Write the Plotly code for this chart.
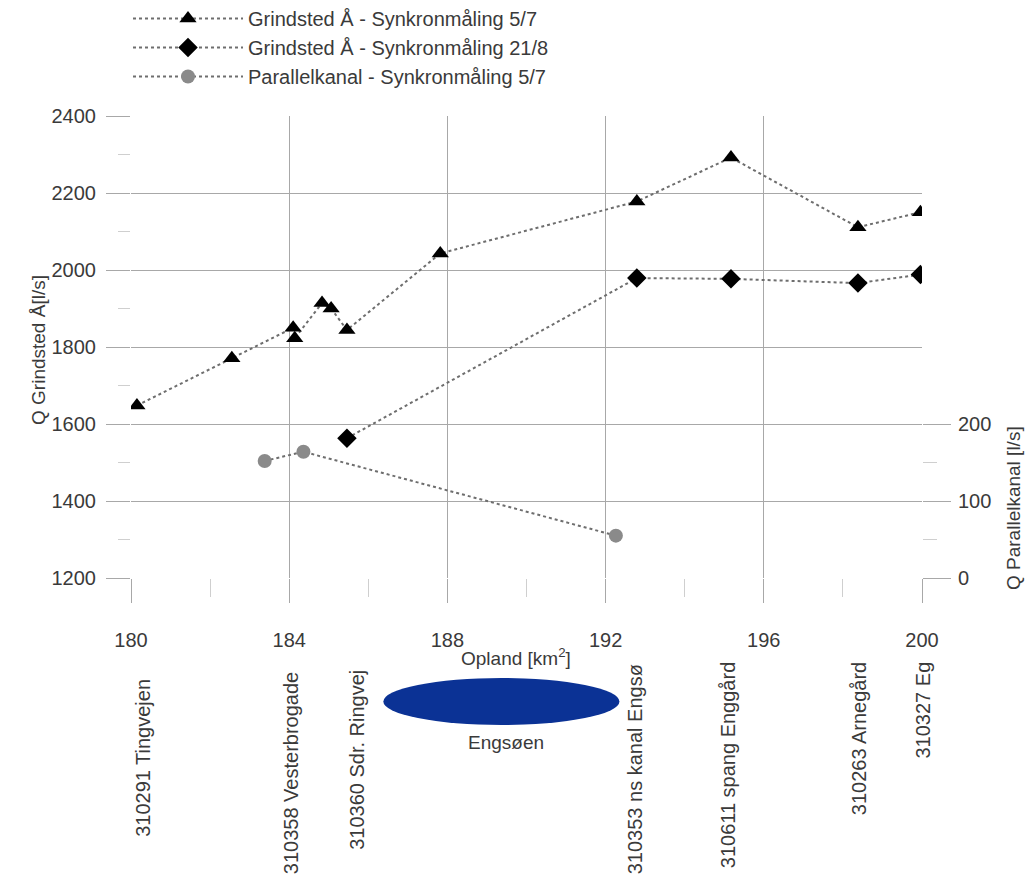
import plotly.graph_objects as go

# ---- data ----
opland_gr_57 = [180.15, 182.55, 184.10, 184.14, 184.83, 185.06, 185.46, 187.82, 192.79, 195.17, 198.38, 199.96]
q_gr_57 = [1648, 1771, 1850, 1823, 1914, 1900, 1844, 2043, 2178, 2292, 2111, 2150]

opland_gr_218 = [185.46, 192.79, 195.17, 198.38, 199.96]
q_gr_218 = [1563, 1979, 1977, 1966, 1988]

opland_par_57 = [183.38, 184.36, 192.26]
q_par_57 = [152, 164, 55]

station_names = ["310291 Tingvejen", "310358 Vesterbrogade", "310360 Sdr. Ringvej",
                 "310353 ns kanal Engsø", "310611 spang Enggård", "310263 Arnegård", "310327 Eg"]
station_opland = [180.30, 184.05, 185.71, 192.75, 195.10, 198.40, 200.00]
station_label_top = [677, 670, 668, 662, 660, 660, 660]  # px from top of page

x_ticks = [180, 184, 188, 192, 196, 200]
y_ticks = [1200, 1400, 1600, 1800, 2000, 2200, 2400]
y2_ticks = [0, 100, 200]

FONT = "Arial, Liberation Sans, sans-serif"
TXT = "#3a3a3a"
GRID = "#a8a8a8"
LINE = "#6e6e6e"

W, H = 1030, 891
L, R, T, B = 131, 108, 116, 313
plot_w = W - L - R
plot_h = H - T - B
X0, X1 = 180, 200

def py2paper(py):
    return (H - B - py) / plot_h

def px2paper(px):
    return (px - L) / plot_w

def data2paper(xv):
    return (xv - X0) / (X1 - X0)

fig = go.Figure()
fig.add_trace(go.Scatter(
    x=opland_gr_57, y=q_gr_57, mode="lines+markers",
    name="Grindsted Å - Synkronmåling 5/7",
    line=dict(color=LINE, width=2, dash="dot"),
    marker=dict(symbol="triangle-up", size=15, color="black"),
))
fig.add_trace(go.Scatter(
    x=opland_gr_218, y=q_gr_218, mode="lines+markers",
    name="Grindsted Å - Synkronmåling 21/8",
    line=dict(color=LINE, width=2, dash="dot"),
    marker=dict(symbol="diamond", size=15, color="black"),
))
fig.add_trace(go.Scatter(
    x=opland_par_57, y=q_par_57, mode="lines+markers", yaxis="y2",
    name="Parallelkanal - Synkronmåling 5/7",
    line=dict(color=LINE, width=2, dash="dot"),
    marker=dict(symbol="circle", size=14, color="#8a8a8a"),
))

annotations = []
for name, xo, top in zip(station_names, station_opland, station_label_top):
    annotations.append(dict(
        text=name, x=data2paper(xo), xref="paper", y=py2paper(top), yref="paper",
        xanchor="center", yanchor="top", textangle=-90, showarrow=False,
        font=dict(family=FONT, size=20, color=TXT),
    ))
annotations += [
    dict(text="Opland [km<sup>2</sup>]", x=px2paper(516), xref="paper",
         y=py2paper(657), yref="paper", xanchor="center", yanchor="middle",
         showarrow=False, font=dict(family=FONT, size=19, color=TXT)),
    dict(text="Engsøen", x=px2paper(506), xref="paper",
         y=py2paper(742), yref="paper", xanchor="center", yanchor="middle",
         showarrow=False, font=dict(family=FONT, size=19, color=TXT)),
    dict(text="Q Grindsted Å[l/s]", x=px2paper(38), xref="paper",
         y=py2paper(350), yref="paper", xanchor="center", yanchor="middle",
         textangle=-90, showarrow=False, font=dict(family=FONT, size=19, color=TXT)),
    dict(text="Q Parallelkanal [l/s]", x=px2paper(1013), xref="paper",
         y=py2paper(508), yref="paper", xanchor="center", yanchor="middle",
         textangle=-90, showarrow=False, font=dict(family=FONT, size=19, color=TXT)),
]

fig.add_shape(type="circle", xref="x", yref="paper",
              x0=186.38, x1=192.35, y0=py2paper(725), y1=py2paper(678),
              fillcolor="#0b3295", line=dict(width=0), layer="above")

fig.update_layout(
    width=W, height=H,
    margin=dict(l=L, r=R, t=T, b=B, pad=0, autoexpand=False),
    paper_bgcolor="white", plot_bgcolor="white",
    font=dict(family=FONT, size=20, color=TXT),
    showlegend=True,
    legend=dict(x=px2paper(128), y=py2paper(-1), xanchor="left", yanchor="top",
                xref="paper", yref="paper", itemwidth=110, bgcolor="rgba(0,0,0,0)",
                font=dict(family=FONT, size=20, color=TXT), tracegroupgap=0),
    xaxis=dict(range=[X0, X1], tickvals=x_ticks, showgrid=True, gridcolor=GRID, gridwidth=1,
               zeroline=False, showline=False, ticks="outside", ticklen=24, tickcolor=GRID,
               tickwidth=1, ticklabelstandoff=20,
               minor=dict(dtick=2, tick0=180, ticks="outside", ticklen=18, tickcolor="#cfcfcf",
                          showgrid=False),
               tickfont=dict(family=FONT, size=20, color=TXT)),
    yaxis=dict(range=[1200, 2400], tickvals=y_ticks, showgrid=True, gridcolor=GRID, gridwidth=1,
               zeroline=False, showline=False, ticks="outside", ticklen=24, tickcolor=GRID,
               tickwidth=1, ticklabelstandoff=6,
               minor=dict(dtick=100, ticks="outside", ticklen=12, tickcolor="#cfcfcf", showgrid=False),
               tickfont=dict(family=FONT, size=20, color=TXT)),
    yaxis2=dict(range=[0, 600], overlaying="y", side="right", tickvals=y2_ticks,
                showgrid=True, gridcolor=GRID, gridwidth=1, zeroline=False, showline=False,
                ticks="outside", ticklen=28, tickcolor=GRID, tickwidth=1, ticklabelstandoff=3,
                minor=dict(tickvals=[50, 150], ticks="outside", ticklen=14, tickcolor="#cfcfcf",
                           showgrid=False),
                tickfont=dict(family=FONT, size=20, color=TXT)),
    annotations=annotations,
)

fig.write_html("out.html", config={"displayModeBar": False},
               post_script="document.body.style.margin='0';")
